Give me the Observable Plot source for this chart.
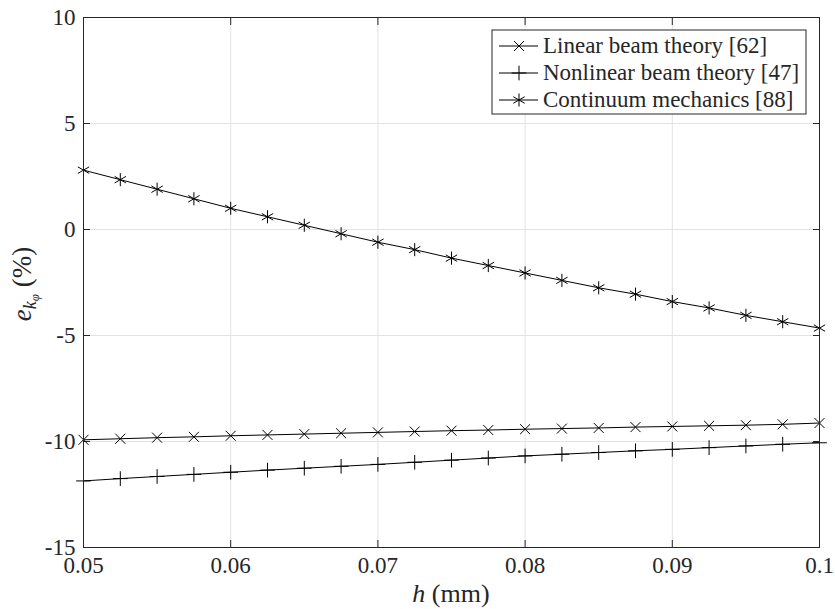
<!DOCTYPE html>
<html>
<head>
<meta charset="utf-8">
<script src="https://cdn.jsdelivr.net/npm/d3@7"></script>
<script src="https://cdn.jsdelivr.net/npm/@observablehq/plot@0.6"></script>
<style>
  html, body { margin: 0; padding: 0; background: #fff; }
  #chart { width: 835px; height: 609px; overflow: hidden; }
  #chart svg, #chart svg text, #chart svg tspan { font-family: "Liberation Serif", "DejaVu Serif", serif !important; }
</style>
</head>
<body>
<div id="chart"></div>
<script>
// Beam thickness h (mm)
const h = [0.05, 0.0525, 0.055, 0.0575, 0.06, 0.0625, 0.065, 0.0675, 0.07, 0.0725, 0.075,
           0.0775, 0.08, 0.0825, 0.085, 0.0875, 0.09, 0.0925, 0.095, 0.0975, 0.1];

// Relative error e_kφ (%) against each reference model
const linearBeam = [-9.92, -9.87, -9.82, -9.78, -9.73, -9.69, -9.65, -9.61, -9.57, -9.53, -9.49,
                    -9.46, -9.42, -9.39, -9.36, -9.32, -9.29, -9.26, -9.23, -9.19, -9.13];
const nonlinearBeam = [-11.86, -11.75, -11.65, -11.55, -11.45, -11.35, -11.26, -11.17, -11.08, -10.98, -10.88,
                       -10.78, -10.68, -10.60, -10.52, -10.44, -10.37, -10.29, -10.21, -10.13, -10.06];
const continuum = [2.80, 2.35, 1.90, 1.45, 1.00, 0.60, 0.20, -0.20, -0.60, -0.95, -1.35,
                   -1.70, -2.05, -2.40, -2.75, -3.05, -3.40, -3.70, -4.05, -4.35, -4.65];

const seriesNames = ["Linear beam theory [62]", "Nonlinear beam theory [47]", "Continuum mechanics [88]"];
const seriesSymbols = ["times", "plus", "asterisk"];
const seriesRadius = [4.6, 4.8, 6.2];
const xTicks = [0.05, 0.06, 0.07, 0.08, 0.09, 0.1];
const yTicks = [-15, -10, -5, 0, 5, 10];

const seriesValues = [linearBeam, nonlinearBeam, continuum];
const rows = seriesNames.flatMap((name, i) =>
  h.map((hv, j) => ({h: hv, e: seriesValues[i][j], series: name})));

const serif = "'Liberation Serif', 'DejaVu Serif', serif";
const axisColor = "#262626";
const gridColor = "#e3e3e3";
const fontSize = 23;

const plot = Plot.plot({
  width: 835,
  height: 609,
  marginLeft: 83,
  marginRight: 16,
  marginTop: 17,
  marginBottom: 62,
  style: {fontSize: fontSize + "px", fontFamily: serif, color: axisColor, background: "white"},
  x: {domain: [0.05, 0.1], ticks: xTicks, label: null},
  y: {domain: [-15, 10], ticks: yTicks, label: null},
  symbol: {domain: seriesNames, range: seriesSymbols},
  marks: [
    Plot.gridX(xTicks, {stroke: gridColor, strokeOpacity: 1}),
    Plot.gridY(yTicks, {stroke: gridColor, strokeOpacity: 1}),
    // inward ticks on all four sides
    Plot.axisX(xTicks, {anchor: "bottom", tickSize: -7, tickFormat: () => "", stroke: axisColor}),
    Plot.axisX(xTicks, {anchor: "top", tickSize: -7, tickFormat: () => "", stroke: axisColor}),
    Plot.axisY(yTicks, {anchor: "left", tickSize: -7, tickFormat: () => "", stroke: axisColor}),
    Plot.axisY(yTicks, {anchor: "right", tickSize: -7, tickFormat: () => "", stroke: axisColor}),
    // tick labels
    Plot.axisX(xTicks, {anchor: "bottom", tickSize: 0, tickPadding: 9, tickFormat: d => String(d), fill: axisColor, fontSize: fontSize}),
    Plot.axisY(yTicks, {anchor: "left", tickSize: 0, tickPadding: 8, tickFormat: d => String(d), fill: axisColor, fontSize: fontSize}),
    Plot.line(rows, {x: "h", y: "e", z: "series", stroke: "black", strokeWidth: 1}),
    ...seriesNames.map((name, i) =>
      Plot.dot(rows, {filter: d => d.series === name, x: "h", y: "e", symbol: "series",
                      stroke: "black", fill: "none", strokeWidth: 1, r: seriesRadius[i]})),
    Plot.frame({stroke: axisColor, strokeWidth: 1})
  ]
});

document.getElementById("chart").appendChild(plot);

const svg = d3.select(plot);
const xs = plot.scale("x");
const ys = plot.scale("y");
const plotLeft = xs.range[0], plotRight = xs.range[1];
const plotTop = ys.range[1], plotBottom = ys.range[0];

// x-axis title: h (mm)
const xt = svg.append("text")
  .attr("x", (plotLeft + plotRight) / 2)
  .attr("y", 602)
  .attr("text-anchor", "middle")
  .attr("fill", axisColor)
  .style("font-size", "26px");
xt.append("tspan").style("font-style", "italic").text("h");
xt.append("tspan").text(" (mm)");

// y-axis title: e_{k_φ} (%)
const yt = svg.append("text")
  .attr("transform", `translate(31,${(plotTop + plotBottom) / 2 + 2}) rotate(-90)`)
  .attr("text-anchor", "middle")
  .attr("fill", axisColor)
  .style("font-size", "27px");
yt.append("tspan").style("font-style", "italic").text("e");
yt.append("tspan").style("font-style", "italic").style("font-size", "18px").attr("dy", 5).text("k");
yt.append("tspan").style("font-style", "italic").style("font-size", "13px").attr("dy", 3).text("φ");
yt.append("tspan").attr("dy", -8).text(" (%)");

// legend box in the upper-right corner of the axes
const lgX = 492, lgY = 30, lgW = 314, lgH = 84;
const lg = svg.append("g");
lg.append("rect")
  .attr("x", lgX).attr("y", lgY).attr("width", lgW).attr("height", lgH)
  .attr("fill", "white").attr("stroke", axisColor).attr("stroke-width", 1);
const symbolTypes = {times: d3.symbolTimes, plus: d3.symbolPlus, asterisk: d3.symbolAsterisk};
seriesNames.forEach((name, i) => {
  const cy = lgY + 16 + i * 27;
  const r = seriesRadius[i];
  lg.append("line")
    .attr("x1", lgX + 7).attr("x2", lgX + 46).attr("y1", cy).attr("y2", cy)
    .attr("stroke", "black").attr("stroke-width", 1);
  lg.append("path")
    .attr("transform", `translate(${lgX + 27},${cy})`)
    .attr("d", d3.symbol(symbolTypes[seriesSymbols[i]], r * r * Math.PI)())
    .attr("fill", "none").attr("stroke", "black").attr("stroke-width", 1);
  lg.append("text")
    .attr("x", lgX + 51).attr("y", cy + 7)
    .attr("text-anchor", "start")
    .attr("fill", axisColor)
    .style("font-size", "23px")
    .text(name);
});

// every label in the serif face
svg.selectAll("text, tspan").style("font-family", serif);
</script>
</body>
</html>
